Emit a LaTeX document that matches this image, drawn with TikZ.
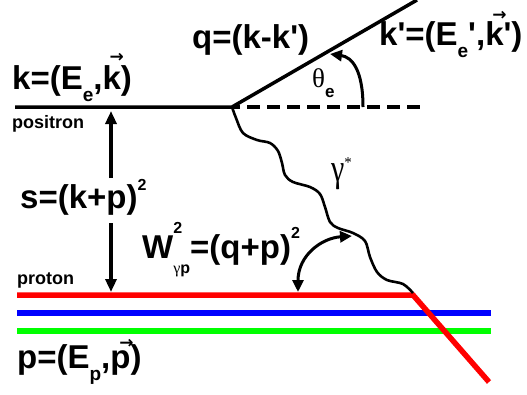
\documentclass[tikz,border=0pt]{standalone}
\usepackage{fontspec}
\setmainfont{Liberation Sans}[Ligatures=TeXOff]
\newfontfamily\serif{Liberation Serif}
\newfontfamily\arrf{DejaVu Sans}
\usetikzlibrary{arrows.meta}
\newcommand\sbs[2][12]{\raisebox{-#1pt}{\fontsize{19}{19}\selectfont #2}}
\newcommand\sps[2][18]{\raisebox{#1pt}{\fontsize{16}{16}\selectfont #2}}
\newcommand\varr[2][27]{\setbox0\hbox{#2}\rlap{\hbox to\wd0{\hfil\raisebox{#1pt}{\arrf\bfseries\fontsize{17}{17}\selectfont →}\kern-3pt}}\box0}
\tikzset{
  lab/.style={anchor=base west, inner sep=0pt, font=\bfseries\fontsize{33}{33}\selectfont},
  smalllab/.style={anchor=base west, inner sep=0pt, font=\bfseries\fontsize{18}{18}\selectfont},
  thick line/.style={line width=3.5pt, black},
  arr/.style={line width=3.5pt, -{Triangle[length=13pt,width=11pt]}},
  darr/.style={line width=3pt, {Triangle[length=12pt,width=11pt]}-{Triangle[length=12pt,width=11pt]}},
  quark/.style={line width=5.5pt},
  photon/.style={line width=2.6pt, line join=round}
}
\begin{document}
\begin{tikzpicture}[x=1pt,y=-1pt]
\useasboundingbox (0,0) rectangle (527,394);
% coordinates
\coordinate (e0) at (15,107);
\coordinate (v) at (232,107);
\coordinate (eout) at (417,0);
\coordinate (dend) at (422,107);
\coordinate (pr0) at (17,295);
\coordinate (pb) at (413,293);
\coordinate (pr1) at (489,382);
\coordinate (b0) at (17,313);
\coordinate (b1) at (491,313);
\coordinate (g0) at (17,331);
\coordinate (g1) at (491,331);
\coordinate (th0) at (363,107);
\coordinate (th1) at (330,54);
\coordinate (w0) at (298,292);
\coordinate (w1) at (352,236);
\coordinate (su0) at (111,178);
\coordinate (su1) at (111,111);
\coordinate (sd0) at (111,223);
\coordinate (sd1) at (111,292);
% lines
\draw[thick line] (e0) -- (v) -- (eout);
\draw[thick line, dash pattern=on 13pt off 7pt, dash phase=5pt] (v) -- (dend);
\draw[quark, blue] (b0) -- (b1);
\draw[quark, green] (g0) -- (g1);
\draw[quark, red] (pr0) -- (pb |- pr0) -- (pr1);
\draw[photon] plot[smooth, tension=0.55] coordinates {(v) (236,118) (243,133) (257,140) (270,143) (278,151) (282,163) (285,175) (293,182) (310,187) (320,194) (325,207) (330,222) (338,228) (353,233) (365,241) (370,257) (377,272) (387,280) (403,284) (pb)};
\draw[arr] (su0) -- (su1);
\draw[arr] (sd0) -- (sd1);
\draw[line width=3pt, -{Triangle[length=12pt,width=11pt]}] (th0) .. controls (363,70) and (352,57) .. (th1);
\draw[darr] (w0) .. controls (298,255) and (322,238) .. (w1);
% labels
\node[lab] (k) at (12,89) {k=(E\sbs{e},\varr{k})};
\node[lab] (q) at (192,48) {q=(k-k')};
\node[lab] (kp) at (379,45) {k'=(E\sbs{e}',\varr[25]{k}')};
\node[smalllab] (posi) at (12,128) {positron};
\node[lab] (s) at (20,208) {s=(k+p)\sps{2}};
\node[lab] (W) at (142,258) {W\rlap{\sps[25]{2}}\sbs[15]{\fontsize{16}{16}\selectfont{\serif\mdseries γ}p}=(q+p)\sps[20]{2}};
\node[smalllab] (prot) at (17,284) {proton};
\node[lab] (p) at (17,368) {p=(E\sbs{p},\varr[20]{p})};
\node[anchor=base west, inner sep=0pt] (th) at (312,87) {\serif\fontsize{27}{27}\selectfont θ\raisebox{-10pt}{\rmfamily\bfseries\fontsize{17}{17}\selectfont e}};
\node[anchor=base west, inner sep=0pt] (gam) at (331,181) {\serif\fontsize{30}{30}\selectfont\scalebox{1}[1.3]{γ}\raisebox{14pt}{\fontsize{15}{15}\selectfont *}};
\end{tikzpicture}
\end{document}
